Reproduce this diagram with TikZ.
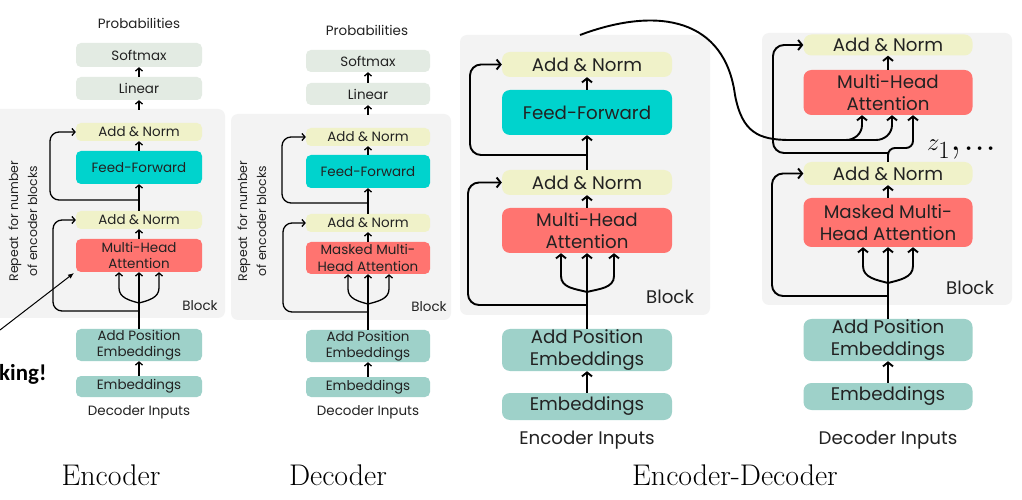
\documentclass[tikz,border=0pt]{standalone}
\usepackage{fontspec}
\newfontfamily\pop{Poppins}
\newfontfamily\carl{Carlito}
\usetikzlibrary{arrows.meta}
\definecolor{bgg}{HTML}{F3F3F3}
\definecolor{smx}{HTML}{E3EBE3}
\definecolor{anc}{HTML}{F0F2C9}
\definecolor{ffc}{HTML}{00D3CD}
\definecolor{mhc}{HTML}{FF7470}
\definecolor{emc}{HTML}{9ED1C9}
\definecolor{txt}{HTML}{222222}
\begin{document}
\begin{tikzpicture}[x=1bp,y=-1bp,
  sb/.style={rounded corners=5bp, inner sep=0, align=center, text=txt, font=\pop\fontsize{13.5}{16.5}\selectfont, minimum width=126bp},
  lb/.style={rounded corners=8bp, inner sep=0, align=center, text=txt, font=\pop\fontsize{18.3}{22}\selectfont, minimum width=170bp},
  sa/.style={-{Straight Barb[length=3bp,width=7bp]}, line width=1.3bp, black},
  la/.style={-{Straight Barb[length=4bp,width=10bp]}, line width=1.9bp, black},
  ll/.style={line width=1.9bp, black},
  slab/.style={font=\pop\fontsize{13.5}{16}\selectfont, text=txt, inner sep=0},
  llab/.style={font=\pop\fontsize{18.3}{22}\selectfont, text=txt, inner sep=0},
  captxt/.style={font=\fontsize{30}{32}\selectfont, inner sep=0, anchor=base},
  rep/.style={rotate=90, align=center, font=\pop\fontsize{12.5}{19}\selectfont, text=txt, inner sep=0},
  bgbox/.style={fill=bgg, rounded corners=7bp}
]
\useasboundingbox (0,0) rectangle (1022,500);
\fill[white] (0,0) rectangle (1022,500);
\clip (0,0) rectangle (1022,500);

% ---------------- Panel 1: Encoder ----------------
\fill[bgbox] (-10,109) rectangle (225,318);
\node[slab] (pr1) at (139,23) {Probabilities};
\node[sb, fill=smx, minimum height=24bp] (sm1) at (139,55) {Softmax};
\node[sb, fill=smx, minimum height=23bp] (li1) at (139,88.5) {Linear};
\coordinate (top1) at (139,110);
\node[sb, fill=anc, minimum height=18bp] (an1a) at (139,132) {Add \& Norm};
\node[sb, fill=ffc, minimum height=33bp] (ff1) at (139,167.5) {Feed-Forward};
\node[sb, fill=anc, minimum height=18bp] (an1b) at (139,220) {Add \& Norm};
\node[sb, fill=mhc, minimum height=33bp] (mh1) at (139,255.5) {Multi-Head\\Attention};
\node[sb, fill=emc, minimum height=32bp] (ap1) at (139,345) {Add Position\\Embeddings};
\node[sb, fill=emc, minimum height=21bp] (em1) at (139,386.5) {Embeddings};
\node[slab] (di1) at (139,412) {Decoder Inputs};
\node[slab] (bl1) at (200,306) {Block};
\node[rep] (rp1) at (23,221) {Repeat\ \ for number\\of encoder blocks};
\node[captxt] (c1) at (111,485) {Encoder};
\node[font=\carl\bfseries\fontsize{23}{23}\selectfont, anchor=base west, inner sep=0] (mk) at (-1,381) {king!};
\coordinate (mka) at (0,330);
\coordinate (mkb) at (74,273);
\draw[-{Latex[length=6bp,width=5bp]}, line width=1bp] (mka) -- (mkb);

\draw[sa] (li1) -- (sm1);
\draw[sa] (top1) -- (li1);
\draw[sa] (ff1) -- (an1a);
\draw[sa] (an1b) -- (ff1);
\draw[sa] (mh1) -- (an1b);
\draw[sa] (em1) -- (ap1);
\draw[sa] (ap1) -- (mh1);
\coordinate (fk1) at (139,303);
\coordinate (bl1l) at (119,288);
\coordinate (bl1r) at (159,288);
\draw[sa] (fk1) to[out=165,in=-90] (bl1l) -- (mh1.south -| bl1l);
\draw[sa] (fk1) to[out=15,in=-90] (bl1r) -- (mh1.south -| bl1r);
\coordinate (r1u) at (139,200);
\coordinate (r1l) at (139,311);
\coordinate (x1u) at (50,0);
\coordinate (x1l) at (53,0);
\draw[sa, rounded corners=9bp] (r1u) -- (r1u -| x1u) -- (an1a -| x1u) -- (an1a.west);
\draw[sa, rounded corners=9bp] (r1l) -- (r1l -| x1l) -- (an1b -| x1l) -- (an1b.west);

% ---------------- Panel 2: Decoder ----------------
\fill[bgbox] (231,114) rectangle (451,320);
\node[slab] (pr2) at (367,30) {Probabilities};
\node[sb, fill=smx, minimum height=22bp, minimum width=124bp] (sm2) at (368,61) {Softmax};
\node[sb, fill=smx, minimum height=22bp, minimum width=124bp] (li2) at (368,94) {Linear};
\coordinate (top2) at (368,115);
\node[sb, fill=anc, minimum height=18bp, minimum width=124bp] (an2a) at (368,137) {Add \& Norm};
\node[sb, fill=ffc, minimum height=33bp, minimum width=124bp] (ff2) at (368,171.5) {Feed-Forward};
\node[sb, fill=anc, minimum height=18bp, minimum width=124bp] (an2b) at (368,223) {Add \& Norm};
\node[sb, fill=mhc, minimum height=32bp, minimum width=124bp] (mh2) at (368,258) {Masked Multi-\\Head Attention};
\node[sb, fill=emc, minimum height=32bp, minimum width=124bp] (ap2) at (368,346) {Add Position\\Embeddings};
\node[sb, fill=emc, minimum height=20bp, minimum width=124bp] (em2) at (368,387) {Embeddings};
\node[slab] (di2) at (368,412) {Decoder Inputs};
\node[slab] (bl2) at (429,307) {Block};
\node[rep] (rp2) at (252,221) {Repeat\ \ for number\\of encoder blocks};
\node[captxt] (c2) at (338,485) {Decoder};

\draw[sa] (li2) -- (sm2);
\draw[sa] (top2) -- (li2);
\draw[sa] (ff2) -- (an2a);
\draw[sa] (an2b) -- (ff2);
\draw[sa] (mh2) -- (an2b);
\draw[sa] (em2) -- (ap2);
\draw[sa] (ap2) -- (mh2);
\coordinate (fk2) at (368,304);
\coordinate (bl2l) at (348,289);
\coordinate (bl2r) at (389,289);
\draw[sa] (fk2) to[out=165,in=-90] (bl2l) -- (mh2.south -| bl2l);
\draw[sa] (fk2) to[out=15,in=-90] (bl2r) -- (mh2.south -| bl2r);
\coordinate (r2u) at (368,203);
\coordinate (r2l) at (368,312);
\coordinate (x2u) at (282,0);
\coordinate (x2l) at (283,0);
\draw[sa, rounded corners=9bp] (r2u) -- (r2u -| x2u) -- (an2a -| x2u) -- (an2a.west);
\draw[sa, rounded corners=9bp] (r2l) -- (r2l -| x2l) -- (an2b -| x2l) -- (an2b.west);

% ---------------- Panel 3: Encoder (enc-dec) ----------------
\fill[bgbox] (460,35) rectangle (710,315);
\node[lb, fill=anc, minimum height=25bp] (an3a) at (587,64.5) {Add \& Norm};
\node[lb, fill=ffc, minimum height=45bp] (ff3) at (587,112.5) {Feed-Forward};
\node[lb, fill=anc, minimum height=25bp] (an3b) at (587,182.5) {Add \& Norm};
\node[lb, fill=mhc, minimum height=45bp] (mh3) at (587,230.5) {Multi-Head\\Attention};
\node[lb, fill=emc, minimum height=42bp] (ap3) at (587,350) {Add Position\\Embeddings};
\node[lb, fill=emc, minimum height=27bp] (em3) at (587,406.5) {Embeddings};
\node[llab] (ei3) at (587,440) {Encoder Inputs};
\node[llab] (bl3) at (670,297) {Block};

\draw[la] (ff3) -- (an3a);
\draw[la] (an3b) -- (ff3);
\draw[la] (mh3) -- (an3b);
\draw[la] (em3) -- (ap3);
\draw[la] (ap3) -- (mh3);
\coordinate (fk3) at (587,292);
\coordinate (bl3l) at (561,276);
\coordinate (bl3r) at (614,276);
\draw[la] (fk3) to[out=165,in=-90] (bl3l) -- (mh3.south -| bl3l);
\draw[la] (fk3) to[out=15,in=-90] (bl3r) -- (mh3.south -| bl3r);
\coordinate (r3u) at (587,155);
\coordinate (r3l) at (587,305);
\coordinate (x3u) at (470,0);
\coordinate (x3l) at (468,0);
\draw[la, rounded corners=11bp] (r3u) -- (r3u -| x3u) -- (an3a -| x3u) -- (an3a.west);
\draw[la, rounded corners=11bp] (r3l) -- (r3l -| x3l) -- (an3b -| x3l) -- (an3b.west);

% ---------------- Panel 4: Decoder (enc-dec) ----------------
\fill[bgbox] (762,33) rectangle (1012,305);
\node[lb, fill=anc, minimum height=21bp, minimum width=169bp] (an4a) at (888,45) {Add \& Norm};
\node[lb, fill=mhc, minimum height=45bp, minimum width=169bp] (mh4) at (888,92.5) {Multi-Head\\Attention};
\node[lb, fill=anc, minimum height=23bp, minimum width=169bp] (an4b) at (888,173.5) {Add \& Norm};
\node[lb, fill=mhc, minimum height=49bp, minimum width=169bp] (mm4) at (888,222.5) {Masked Multi-\\Head Attention};
\node[lb, fill=emc, minimum height=42bp, minimum width=169bp] (ap4) at (888,340) {Add Position\\Embeddings};
\node[lb, fill=emc, minimum height=27bp, minimum width=169bp] (em4) at (888,396.5) {Embeddings};
\node[llab] (di4) at (888,440) {Decoder Inputs};
\node[llab] (bl4) at (970,288) {Block};
\node[font=\fontsize{45}{45}\selectfont, anchor=base west, inner sep=0] (z1) at (927,151) {$z_1$,\kern2bp...};
\node[captxt] (c3) at (735,485) {Encoder-Decoder};

\draw[la] (mh4) -- (an4a);
\draw[la] (mm4) -- (an4b);
\draw[la] (em4) -- (ap4);
\draw[la] (ap4) -- (mm4);
\coordinate (fk4) at (888,283);
\coordinate (bl4l) at (863,266);
\coordinate (bl4r) at (913,266);
\draw[la] (fk4) to[out=165,in=-90] (bl4l) -- (mm4.south -| bl4l);
\draw[la] (fk4) to[out=15,in=-90] (bl4r) -- (mm4.south -| bl4r);
\coordinate (r4l) at (888,296);
\coordinate (x4l) at (772,0);
\draw[la, rounded corners=11bp] (r4l) -- (r4l -| x4l) -- (an4b -| x4l) -- (an4b.west);
% query path and upper residual
\coordinate (q4a) at (888,148);
\coordinate (q4b) at (913,148);
\coordinate (r4u) at (888,153);
\coordinate (x4u) at (773,0);
\draw[la, rounded corners=7bp] (an4b.north) -- (q4a) -- (q4b) -- (mh4.south -| q4b);
\draw[la, rounded corners=11bp] (r4u) -- (r4u -| x4u) -- (an4a -| x4u) -- (an4a.west);
% encoder output to cross attention
\coordinate (eo) at (580,35);
\coordinate (ec) at (735,95);
\coordinate (eh) at (790,140);
\coordinate (e1) at (846,140);
\coordinate (e2) at (876,140);
\coordinate (k1) at (862,125);
\coordinate (k2) at (892,125);
\draw[ll] (eo) .. controls (660,5) and (725,20) .. (ec) .. controls (742,132) and (758,140) .. (eh) -- (e2);
\draw[la] (e1) to[out=0,in=-90] (k1) -- (mh4.south -| k1);
\draw[la] (e2) to[out=0,in=-90] (k2) -- (mh4.south -| k2);
\end{tikzpicture}
\end{document}
